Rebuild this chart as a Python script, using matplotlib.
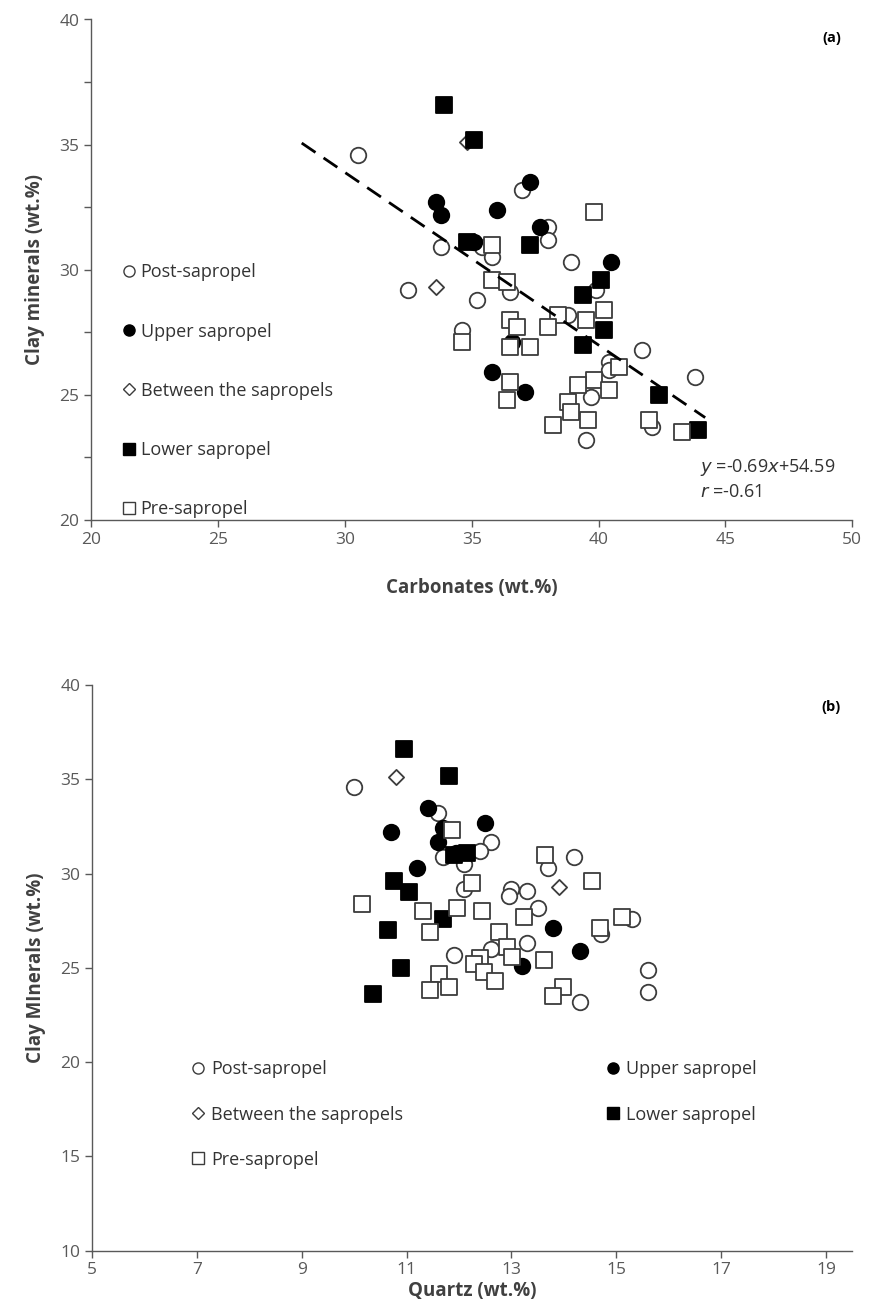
import matplotlib.pyplot as plt
from matplotlib.lines import Line2D
from matplotlib.ticker import MultipleLocator

plt.rcParams['font.family'] = ['Open Sans', 'DejaVu Sans']

# Sample groups: clay minerals, carbonates and quartz (wt.%) for each sample
groups = ["Post-sapropel", "Upper sapropel", "Between the sapropels",
          "Lower sapropel", "Pre-sapropel"]

clay_post = [34.6, 33.2, 31.7, 31.2, 30.9, 30.9, 30.5, 30.3, 29.2, 29.2, 29.1,
             28.8, 28.2, 27.6, 26.8, 26.3, 26.0, 25.7, 24.9, 23.7, 23.2]
carb_post = [30.5, 37.0, 38.0, 38.0, 35.4, 33.8, 35.8, 38.9, 39.9, 32.5, 36.5,
             35.2, 38.8, 34.6, 41.7, 40.4, 40.4, 43.8, 39.7, 42.1, 39.5]
qtz_post = [10.0, 11.6, 12.6, 12.4, 14.2, 11.7, 12.1, 13.7, 12.1, 13.0, 13.3,
            12.95, 13.5, 15.3, 14.7, 13.3, 12.6, 11.9, 15.6, 15.6, 14.3]

clay_upper = [33.5, 32.7, 32.4, 32.2, 31.7, 31.1, 30.3, 27.1, 25.9, 25.1]
carb_upper = [37.3, 33.6, 36.0, 33.8, 37.7, 35.1, 40.5, 36.6, 35.8, 37.1]
qtz_upper = [11.4, 12.5, 11.7, 10.7, 11.6, 11.95, 11.2, 13.8, 14.3, 13.2]

clay_between = [35.1, 29.3]
carb_between = [34.8, 33.6]
qtz_between = [10.8, 13.9]

clay_lower = [36.6, 35.2, 31.1, 31.0, 29.6, 29.0, 27.6, 27.0, 25.0, 23.6]
carb_lower = [33.9, 35.1, 34.8, 37.3, 40.1, 39.4, 40.2, 39.4, 42.4, 43.9]
qtz_lower = [10.95, 11.8, 12.15, 11.9, 10.75, 11.05, 11.7, 10.65, 10.9, 10.35]

clay_pre = [32.3, 31.0, 29.6, 29.5, 28.4, 28.2, 28.0, 28.0, 27.7, 27.7, 27.1,
            26.9, 26.9, 26.1, 25.6, 25.5, 25.4, 25.2, 24.8, 24.7, 24.3, 24.0,
            24.0, 23.8, 23.5]
carb_pre = [39.8, 35.8, 35.8, 36.4, 40.2, 38.4, 39.5, 36.5, 38.0, 36.8, 34.6,
            36.5, 37.3, 40.8, 39.8, 36.5, 39.2, 40.4, 36.4, 38.8, 38.9, 39.6,
            42.0, 38.2, 43.3]
qtz_pre = [11.86, 13.64, 14.54, 12.25, 10.15, 11.96, 11.32, 12.44, 13.23, 15.11,
           14.68, 11.45, 12.76, 12.91, 13.01, 12.4, 13.62, 12.28, 12.47, 11.61,
           12.69, 11.8, 13.99, 11.45, 13.8]

# linear fit of clay vs carbonates
slope, intercept = -0.69, 54.59
fit_x = [28.3, 44.2]

EDGE = "#3c3c3c"
styles = {
    "Post-sapropel": dict(marker="o", facecolor="white", edgecolor=EDGE, size=125),
    "Upper sapropel": dict(marker="o", facecolor="black", edgecolor="black", size=125),
    "Between the sapropels": dict(marker="D", facecolor="white", edgecolor=EDGE, size=60),
    "Lower sapropel": dict(marker="s", facecolor="black", edgecolor="black", size=125),
    "Pre-sapropel": dict(marker="s", facecolor="white", edgecolor=EDGE, size=125),
}


def style_axes(ax):
    for side in ["top", "right"]:
        ax.spines[side].set_visible(False)
    for side in ["left", "bottom"]:
        ax.spines[side].set_color("#595959")
        ax.spines[side].set_linewidth(1.0)
    ax.tick_params(which="both", direction="out", colors="#595959",
                   labelcolor="#595959", labelsize=12.5, length=5, width=1.0)


def draw_points(ax, xs, ys):
    for name, x, y in zip(groups, xs, ys):
        st = styles[name]
        ax.scatter(x, y, marker=st["marker"], s=st["size"], facecolor=st["facecolor"],
                   edgecolor=st["edgecolor"], linewidths=1.3, zorder=3)


def legend_handles(names):
    handles = []
    for name in names:
        st = styles[name]
        handles.append(Line2D([], [], ls="", marker=st["marker"],
                              markersize=8 if st["marker"] != "D" else 6,
                              markerfacecolor=st["facecolor"],
                              markeredgecolor=st["edgecolor"], markeredgewidth=1.0))
    return handles


fig = plt.figure(figsize=(8.76, 13), dpi=100)

# (a) clay minerals vs carbonates
ax1 = fig.add_axes([0.104, 0.60, 0.869, 0.385])
draw_points(ax1, [carb_post, carb_upper, carb_between, carb_lower, carb_pre],
            [clay_post, clay_upper, clay_between, clay_lower, clay_pre])
ax1.plot(fit_x, [slope * v + intercept for v in fit_x], color="black", lw=2,
         dashes=(6, 3.5), zorder=4)
ax1.set_xlim(20, 50)
ax1.set_ylim(20, 40)
ax1.xaxis.set_major_locator(MultipleLocator(5))
ax1.yaxis.set_major_locator(MultipleLocator(5))
ax1.yaxis.set_minor_locator(MultipleLocator(2.5))
style_axes(ax1)
ax1.set_xlabel("Carbonates (wt.%)", fontsize=13.5, fontweight="bold", color="#404040", labelpad=22)
ax1.set_ylabel("Clay minerals (wt.%)", fontsize=13.5, fontweight="bold", color="#404040", labelpad=10)
ax1.text(0.985, 0.955, "(a)", transform=ax1.transAxes, fontsize=10.5,
         fontweight="bold", ha="right")
ax1.text(0.8, 0.104, r"$\it{y}$ =-0.69$\it{x}$+54.59", transform=ax1.transAxes,
         fontsize=13, color="#333333", ha="left", va="center")
ax1.text(0.8, 0.056, r"$\it{r}$ =-0.61", transform=ax1.transAxes,
         fontsize=13, color="#333333", ha="left", va="center")
ax1.legend(legend_handles(groups), groups, loc="upper left",
           bbox_to_anchor=(0.02, 0.545), frameon=False, fontsize=13,
           labelspacing=2.28, handlelength=0.7, handletextpad=0.3,
           labelcolor="#333333")

# (b) clay minerals vs quartz
ax2 = fig.add_axes([0.105, 0.038, 0.868, 0.435])
draw_points(ax2, [qtz_post, qtz_upper, qtz_between, qtz_lower, qtz_pre],
            [clay_post, clay_upper, clay_between, clay_lower, clay_pre])
ax2.set_xlim(5, 19.5)
ax2.set_ylim(10, 40)
ax2.set_xticks(range(5, 20, 2))
ax2.yaxis.set_major_locator(MultipleLocator(5))
style_axes(ax2)
ax2.set_xlabel("Quartz (wt.%)", fontsize=13.5, fontweight="bold", color="#404040", labelpad=2)
ax2.set_ylabel("Clay MInerals (wt.%)", fontsize=13.5, fontweight="bold", color="#404040", labelpad=10)
ax2.text(0.985, 0.955, "(b)", transform=ax2.transAxes, fontsize=10.5,
         fontweight="bold", ha="right")
order = ["Post-sapropel", "Between the sapropels", "Pre-sapropel",
         "Upper sapropel", "Lower sapropel"]
ax2.legend(legend_handles(order), order, loc="upper left", ncol=2,
           bbox_to_anchor=(0.11, 0.365), frameon=False, fontsize=13,
           labelspacing=1.5, handlelength=0.7, handletextpad=0.35,
           columnspacing=11.3, labelcolor="#333333")

fig.savefig("out.png", dpi=100)
